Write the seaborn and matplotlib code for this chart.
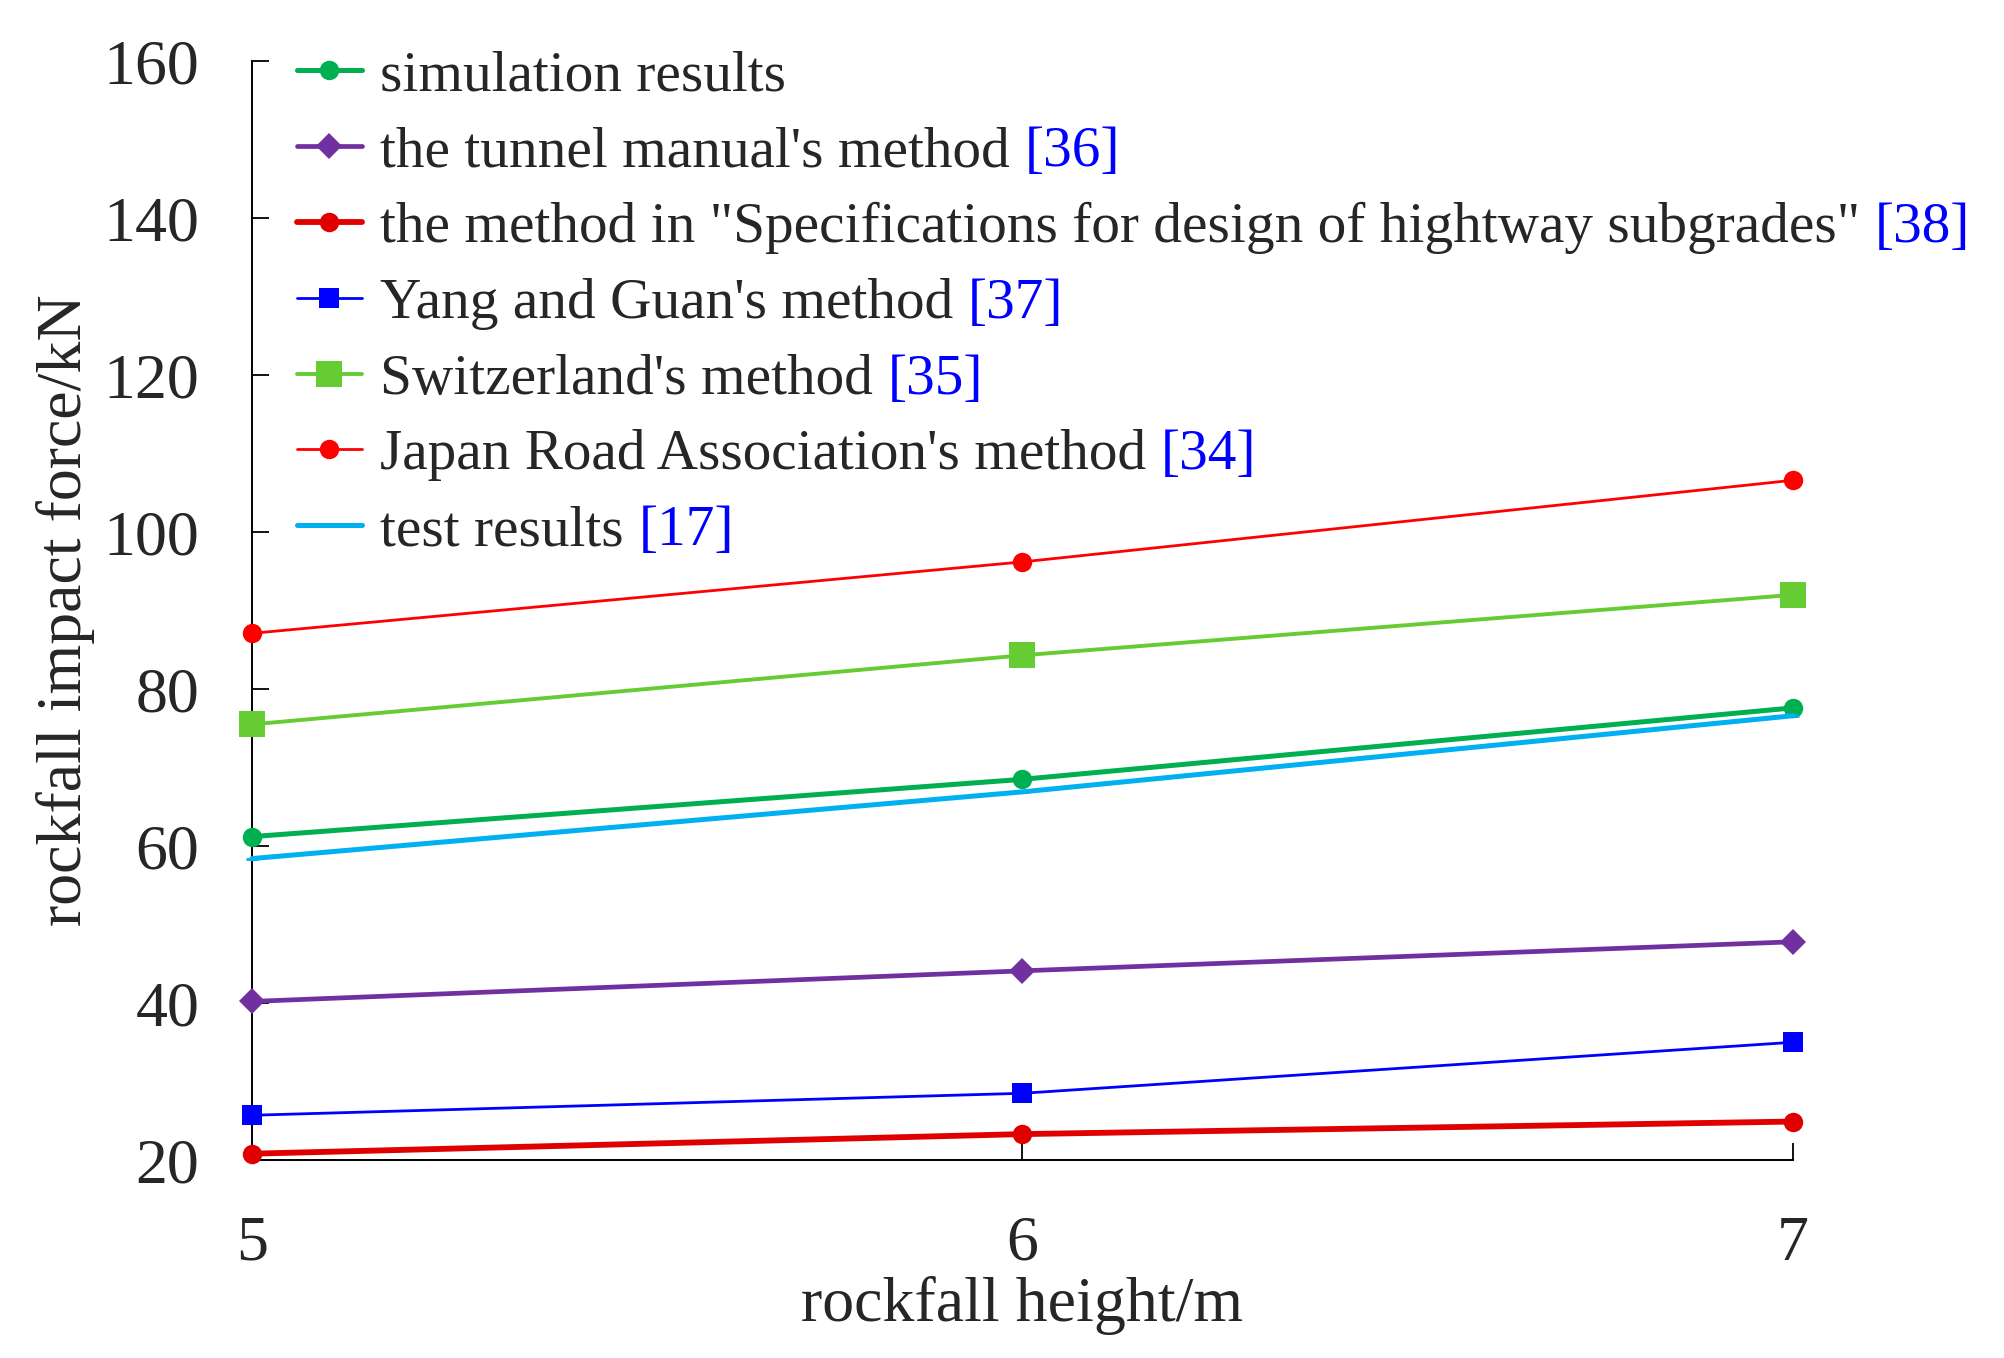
import matplotlib
matplotlib.use("Agg")
import matplotlib.pyplot as plt
import seaborn as sns

# rockfall height (m)
heights = [5, 6, 7]

# impact force (kN)
simulation = [61.2, 68.5, 77.6]
tunnel_manual = [40.2, 44.1, 47.8]
specifications = [20.8, 23.3, 24.9]
yang_guan = [25.7, 28.5, 35.0]
switzerland = [75.5, 84.3, 92.0]
japan_road = [87.1, 96.2, 106.6]
test_results = [58.4, 66.9, 76.6]

labels = [
    "simulation results",
    "the tunnel manual's method",
    "the method in \"Specifications for design of hightway subgrades\"",
    "Yang and Guan's method",
    "Switzerland's method",
    "Japan Road Association's method",
    "test results",
]
refs = ["", "[36]", "[38]", "[37]", "[35]", "[34]", "[17]"]

sns.set_style("ticks")
plt.rcParams["font.family"] = ["Liberation Serif", "DejaVu Serif"]

fig = plt.figure(figsize=(20.04, 13.58), dpi=100)
ax = fig.add_axes([0.1257, 0.1458, 0.7690, 0.8092])

# (values, colour, marker, line width, marker size)
series = [
    (simulation, "#00B050", "o", 3.6, 14),
    (tunnel_manual, "#7030A0", "D", 3.4, 13),
    (specifications, "#E00000", "o", 4.2, 14),
    (yang_guan, "#0000FF", "s", 2.0, 14),
    (switzerland, "#66CC33", "s", 2.8, 19),
    (japan_road, "#FF0000", "o", 2.0, 14),
    (test_results, "#00B0F0", "_", 3.6, 8),
]

for (vals, color, mk, lw, ms), lab in zip(series, labels):
    sns.lineplot(x=heights, y=vals, ax=ax, color=color, marker=mk,
                 markersize=ms, linewidth=lw,
                 markeredgewidth=0 if mk != "_" else 2,
                 markeredgecolor=color, label=lab, clip_on=False, zorder=3)

ax.set_xlim(5, 7)
ax.set_ylim(20, 160)
ax.set_xticks(heights)
ax.set_yticks(range(20, 161, 20))
ax.tick_params(axis="both", direction="in", length=12, width=1.3,
               labelsize=46, color="black")
ax.tick_params(axis="y", pad=38)
ax.tick_params(axis="x", pad=40)
sns.despine(ax=ax)
for sp in ("left", "bottom"):
    ax.spines[sp].set_linewidth(1.4)
    ax.spines[sp].set_color("black")

ax.set_xlabel("rockfall height/m", fontsize=46, labelpad=2)
ax.set_ylabel("rockfall impact force/kN", fontsize=46, labelpad=6)

leg = ax.legend(loc="upper left", bbox_to_anchor=(0.148, 0.963),
                bbox_transform=fig.transFigure, frameon=False, fontsize=41.2,
                handlelength=1.15, handletextpad=0.3, labelspacing=0.415,
                borderpad=0, borderaxespad=0)

# blue citation numbers after the legend labels (drawn after the legend)
for txt, ref in zip(leg.get_texts(), refs):
    if ref:
        ax.annotate(ref, xy=(1, 0), xycoords=txt, xytext=(11, 0),
                    textcoords="offset points", ha="left", va="bottom",
                    fontsize=41.2, color="#0000FF", zorder=10)

fig.savefig("out.png", dpi=100)
